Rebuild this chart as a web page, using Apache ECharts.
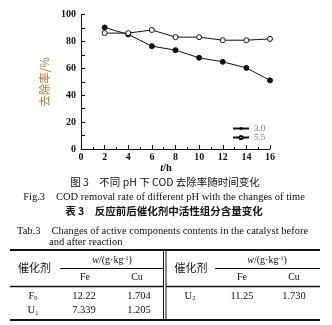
<!DOCTYPE html>
<html><head><meta charset="utf-8">
<script src="https://cdn.jsdelivr.net/npm/echarts@6/dist/echarts.min.js"></script>
<style>html,body{margin:0;padding:0;background:#fff}#c{width:332px;height:325px}</style>
</head><body><div id="c"></div>
<script>
const hours = [2, 4, 6, 8, 10, 12, 14, 16];
const ph30 = [90.5, 85.3, 76.6, 73.6, 67.9, 64.9, 60.4, 51.1];
const ph55 = [86.3, 86.3, 88.6, 83.3, 83.3, 81.0, 81.0, 82.0];
const seriesNames = ['3.0', '5.5'];
const yName = '去除率/%';
const figCaptionCn = '图 3\u3000不同 pH 下 COD 去除率随时间变化';
const figCaptionEn = 'Fig.3\u3000COD removal rate of different pH with the changes of time';
const tabCaptionCn = '表 3\u3000反应前后催化剂中活性组分含量变化';
const tabCaptionEn1 = 'Tab.3\u3000Changes of active components contents in the catalyst before';
const tabCaptionEn2 = 'and after reaction';
const tabColHeader = '催化剂';
const tabElements = ['Fe', 'Cu'];
const leftRows = [['F', '0', '12.22', '1.704'], ['U', '1', '7.339', '1.205']];
const rightRows = [['U', '2', '11.25', '1.730']];

const serif = '"Liberation Serif", "Times New Roman", serif';
const cjk = '"Noto Sans CJK SC", sans-serif';
const chart = echarts.init(document.getElementById('c'));

const toPairs = (xs, ys) => xs.map((x, i) => [x, ys[i]]);

const g = [];
function txt(x, y, text, opt) {
  opt = opt || {};
  g.push({type: 'text', x: x, y: y, style: Object.assign({
    text: text, fill: opt.fill || '#111', font: opt.font,
    align: opt.align || 'center', verticalAlign: 'middle'
  }, opt.rich ? {rich: opt.rich} : {})});
}
function line(x1, y1, x2, y2, w) {
  g.push({type: 'line', shape: {x1: x1, y1: y1, x2: x2, y2: y2}, style: {stroke: '#111', lineWidth: w || 1}});
}

// captions
txt(166, 168, '{i|t}{n|/h}', {rich: {i: {fontFamily: serif, fontStyle: 'italic', fontSize: 10.5, fontWeight: 'bold', fill: '#111'}, n: {fontFamily: serif, fontSize: 10.5, fontWeight: 'bold', fill: '#111'}}});
txt(165, 182, figCaptionCn, {font: '10.5px ' + cjk});
txt(164, 197, figCaptionEn, {font: '10.5px ' + serif});
txt(164, 211, tabCaptionCn, {font: 'bold 10.5px ' + cjk});
txt(17, 231.5, tabCaptionEn1, {font: '10.5px ' + serif, align: 'left'});
txt(49, 242.5, tabCaptionEn2, {font: '10.5px ' + serif, align: 'left'});

// table rules
line(10, 250, 320, 250, 2);
line(10, 320, 320, 320, 2);
line(10, 286.5, 163, 286.5, 1.3);
line(166, 286.5, 320, 286.5, 1.3);
line(60, 268.5, 163, 268.5, 1);
line(215, 268.5, 320, 268.5, 1);
line(163.5, 250, 163.5, 320, 1);
line(166, 250, 166, 320, 1);

const wRich = {
  i: {fontFamily: serif, fontStyle: 'italic', fontSize: 10, fill: '#111'},
  n: {fontFamily: serif, fontSize: 10, fill: '#111'},
  s: {fontFamily: serif, fontSize: 6, fill: '#111', padding: [0, 0, 5, 0]}
};
const subRich = {
  n: {fontFamily: serif, fontSize: 10.5, fill: '#111'},
  s: {fontFamily: serif, fontSize: 6.5, fill: '#111', padding: [5, 0, 0, 0]}
};
// left header
txt(34.5, 268, tabColHeader, {font: '11px ' + cjk});
txt(112, 260.5, '{i|w}{n|/(g·kg}{s|-1}{n|)}', {rich: wRich});
txt(85, 277, tabElements[0], {font: '10px ' + serif});
txt(137, 277, tabElements[1], {font: '10px ' + serif});
// right header
txt(191, 268, tabColHeader, {font: '11px ' + cjk});
txt(267, 260.5, '{i|w}{n|/(g·kg}{s|-1}{n|)}', {rich: wRich});
txt(242, 277, tabElements[0], {font: '10px ' + serif});
txt(294, 277, tabElements[1], {font: '10px ' + serif});
// rows
const rowY = [296, 310.5];
leftRows.forEach((r, i) => {
  txt(33, rowY[i], '{n|' + r[0] + '}{s|' + r[1] + '}', {rich: subRich});
  txt(84, rowY[i], r[2], {font: '10.5px ' + serif});
  txt(139, rowY[i], r[3], {font: '10.5px ' + serif});
});
rightRows.forEach((r, i) => {
  txt(190, rowY[i], '{n|' + r[0] + '}{s|' + r[1] + '}', {rich: subRich});
  txt(242, rowY[i], r[2], {font: '10.5px ' + serif});
  txt(294, rowY[i], r[3], {font: '10.5px ' + serif});
});

const axisLabel = {color: '#111', fontFamily: serif, fontSize: 10, fontWeight: 'bold'};
chart.setOption({
  animation: false,
  backgroundColor: '#fff',
  grid: {left: 81, right: 62, top: 14.7, bottom: 176, containLabel: false},
  legend: {
    orient: 'vertical', left: 232, top: 124, itemWidth: 16, itemHeight: 4, itemGap: 0,
    padding: 0,
    textStyle: {color: '#777', fontFamily: serif, fontSize: 9, lineHeight: 7, padding: [0, 0, 0, 0]},
    data: seriesNames
  },
  xAxis: {
    type: 'value', min: 0, max: 16, interval: 2,
    axisLine: {lineStyle: {color: '#111', width: 1}},
    axisTick: {inside: true, length: 4, lineStyle: {color: '#111'}},
    minorTick: {show: true, splitNumber: 2, length: 2, lineStyle: {color: '#111'}},
    splitLine: {show: false},
    axisLabel: Object.assign({margin: 3}, axisLabel)
  },
  yAxis: {
    type: 'value', min: 0, max: 100, interval: 20,
    name: yName, nameLocation: 'middle', nameGap: 28, nameRotate: 90,
    nameTextStyle: {color: '#b8773c', fontFamily: cjk, fontSize: 11.5},
    axisLine: {show: true, lineStyle: {color: '#111', width: 1}},
    axisTick: {show: true, inside: true, length: 4, lineStyle: {color: '#111'}},
    minorTick: {show: true, splitNumber: 2, length: 4, lineStyle: {color: '#111'}},
    splitLine: {show: false},
    axisLabel: Object.assign({margin: 5}, axisLabel)
  },
  series: [
    {name: seriesNames[0], type: 'line', data: toPairs(hours, ph30), symbol: 'circle', symbolSize: 5,
     lineStyle: {color: '#111', width: 1}, itemStyle: {color: '#111', borderColor: '#111'}},
    {name: seriesNames[1], type: 'line', data: toPairs(hours, ph55), symbol: 'circle', symbolSize: 5,
     lineStyle: {color: '#111', width: 1}, itemStyle: {color: '#fff', borderColor: '#111', borderWidth: 1}}
  ],
  graphic: g
});
</script></body></html>
